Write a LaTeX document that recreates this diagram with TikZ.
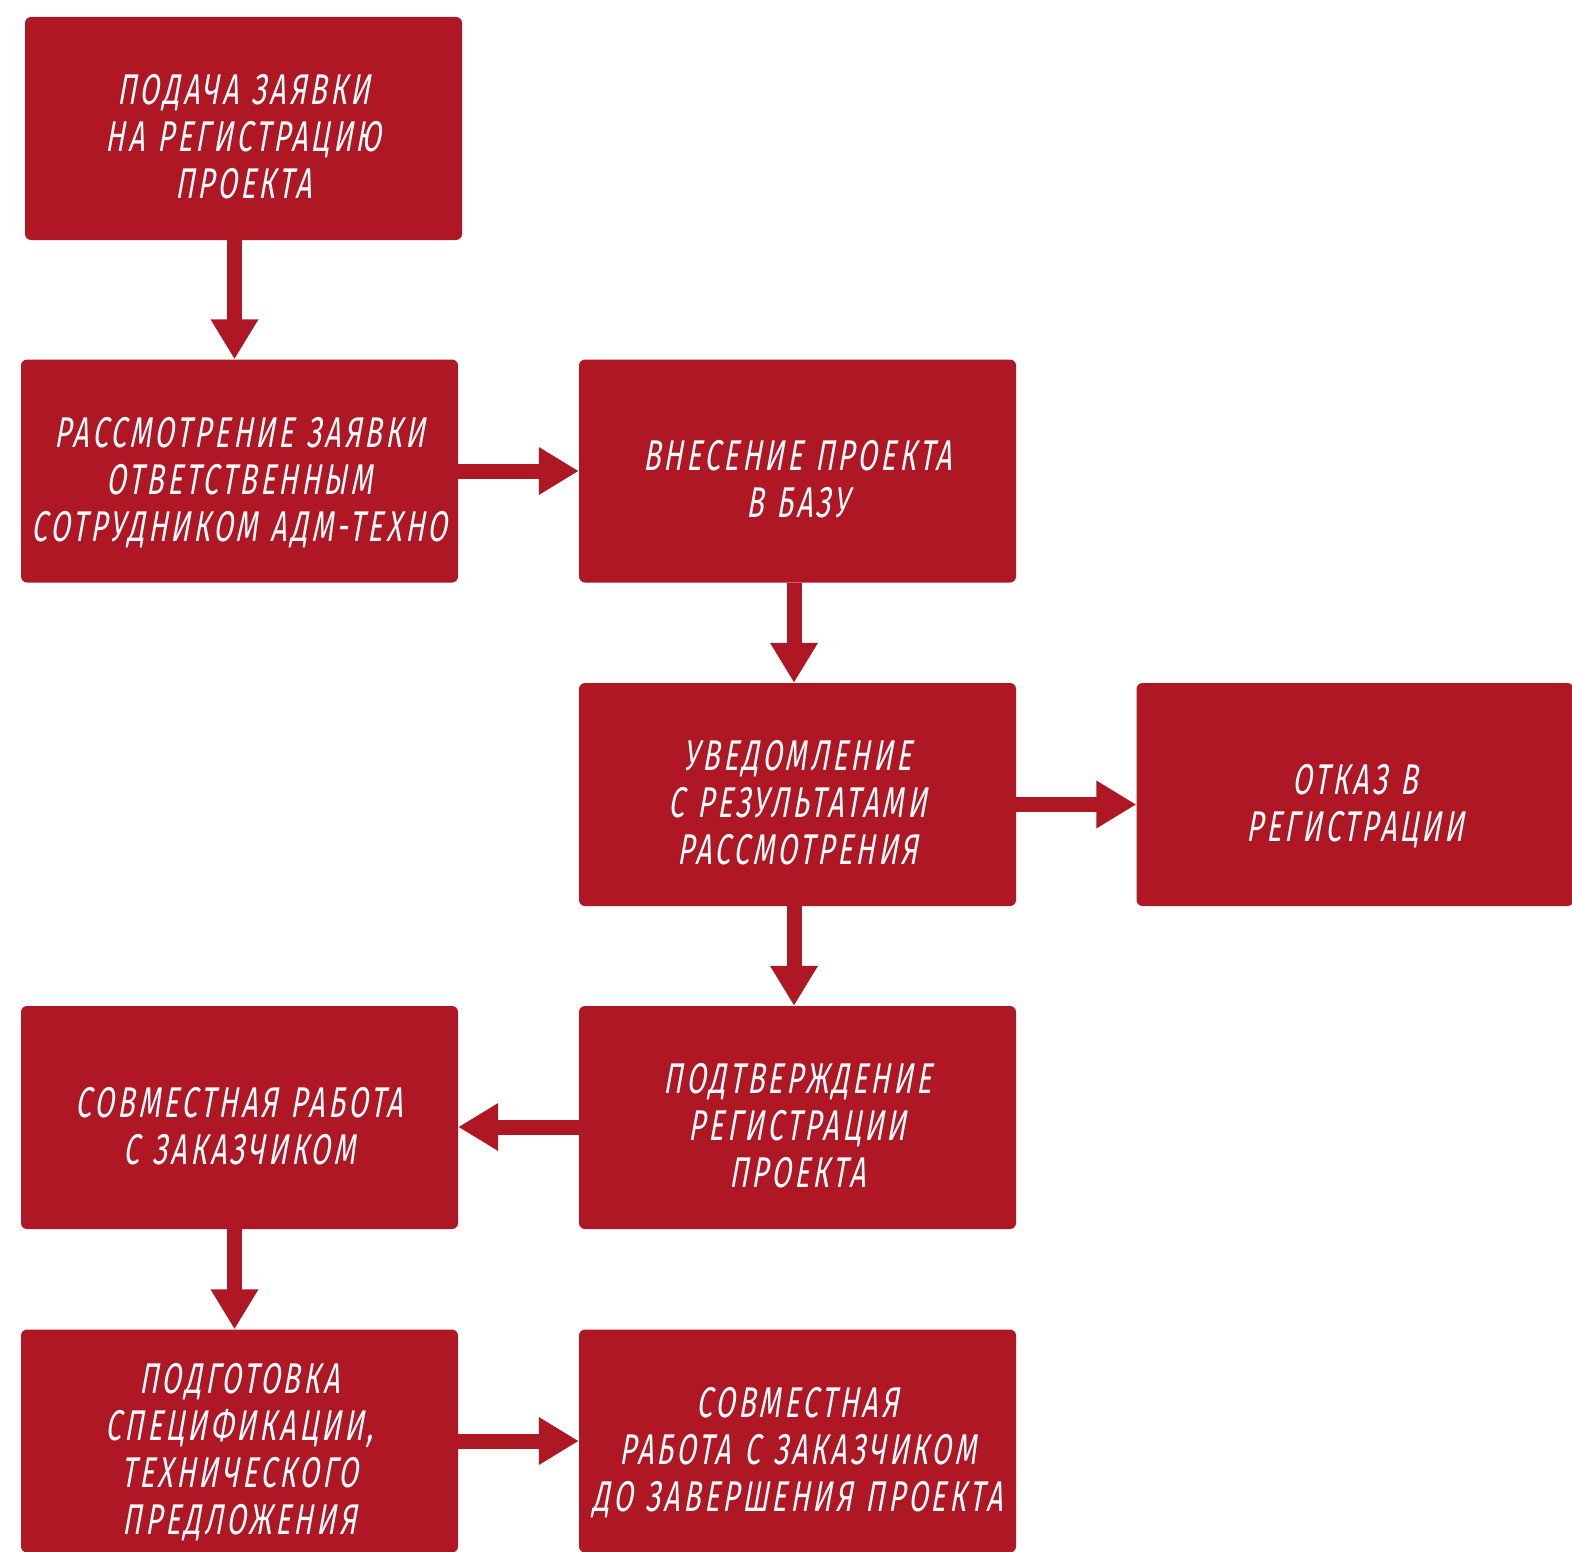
\documentclass[tikz,border=0pt]{standalone}
\usepackage{fontspec}
\setmainfont{Fira Sans}[FakeStretch=0.655, FakeSlant=0.18, LetterSpace=8, WordSpace=1.2]
\usetikzlibrary{arrows.meta,positioning}
\definecolor{regred}{RGB}{176,23,37}
% text a bit lower than the box centre
\newcommand{\steptext}[1]{\raisebox{-14pt}[\height][\depth]{\begin{tabular}{@{}c@{}}#1\end{tabular}}}

\begin{document}
\begin{tikzpicture}[x=1pt, y=-1pt,
  every node/.style = {fill=regred, text=white, rounded corners=6pt,
    minimum width=437pt, minimum height=223pt, inner sep=0pt,
    font=\fontsize{43}{47}\selectfont},
  flow/.style = {draw=regred, line width=15pt,
    -{Triangle[length=40pt, width=45pt]}}]

  \useasboundingbox (0,0) rectangle (1572,1552);
  \begin{scope}
  \clip (0,0) rectangle (1572,1552);

  \node (zayavka) at (243.5,128.5) {\steptext{ПОДАЧА ЗАЯВКИ\\НА РЕГИСТРАЦИЮ\\ПРОЕКТА}};
  \node (rassm) at (239.5,471) {\steptext{РАССМОТРЕНИЕ ЗАЯВКИ\\ОТВЕТСТВЕННЫМ\\СОТРУДНИКОМ АДМ-ТЕХНО}};
  \node (baza) at (797.5,471) {\steptext{ВНЕСЕНИЕ ПРОЕКТА\\В БАЗУ}};
  \node (uved) at (797.5,794.5) {\steptext{УВЕДОМЛЕНИЕ\\С РЕЗУЛЬТАТАМИ\\РАССМОТРЕНИЯ}};
  \node (otkaz) at (1355,794.5) {\steptext{ОТКАЗ В\\РЕГИСТРАЦИИ}};
  \node (podtv) at (797.5,1117.5) {\steptext{ПОДТВЕРЖДЕНИЕ\\РЕГИСТРАЦИИ\\ПРОЕКТА}};
  \node (sovm) at (239.5,1117.5) {\steptext{СОВМЕСТНАЯ РАБОТА\\С ЗАКАЗЧИКОМ}};
  \node (podg) at (239.5,1441) {\steptext{ПОДГОТОВКА\\СПЕЦИФИКАЦИИ,\\ТЕХНИЧЕСКОГО\\ПРЕДЛОЖЕНИЯ}};
  \node (final) at (797.5,1441) {\steptext{СОВМЕСТНАЯ\\РАБОТА С ЗАКАЗЧИКОМ\\ДО ЗАВЕРШЕНИЯ ПРОЕКТА}};

  \draw[flow] ([xshift=-9pt]zayavka.south) -- ([xshift=-5pt]rassm.north);
  \draw[flow] (rassm.east) -- (baza.west);
  \draw[flow] ([xshift=-3.5pt]baza.south) -- ([xshift=-3.5pt]uved.north);
  \draw[flow] ([yshift=-10pt]uved.east) -- ([yshift=-10pt]otkaz.west);
  \draw[flow] ([xshift=-3.5pt]uved.south) -- ([xshift=-3.5pt]podtv.north);
  \draw[flow] ([yshift=-9.5pt]podtv.west) -- ([yshift=-9.5pt]sovm.east);
  \draw[flow] ([xshift=-5pt]sovm.south) -- ([xshift=-5pt]podg.north);
  \draw[flow] (podg.east) -- (final.west);
  \end{scope}
\end{tikzpicture}
\end{document}
